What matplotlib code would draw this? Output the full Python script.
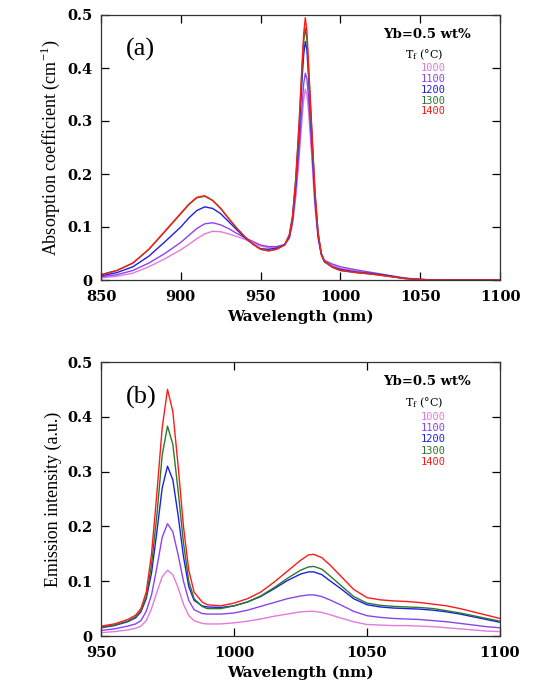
import matplotlib
matplotlib.use("Agg")
import matplotlib.pyplot as plt

temps = ["1000", "1100", "1200", "1300", "1400"]
colors = ["#e57ad9", "#8a44ee", "#1f1fe6", "#2a7a2a", "#ff1a1a"]

wl_a = [850, 860, 870, 880, 890, 900, 905, 910, 915, 920, 925, 930, 935, 940, 945,
        950, 955, 960, 965, 968, 970, 972, 974, 976, 977, 978, 979, 980, 982, 984,
        986, 988, 990, 995, 1000, 1010, 1020, 1030, 1040, 1050, 1060, 1080, 1100]

abs_1000 = [0.004, 0.007, 0.013, 0.025, 0.040, 0.057, 0.067, 0.078, 0.087, 0.092, 0.091, 0.087, 0.082, 0.077, 0.070,
            0.064, 0.061, 0.061, 0.066, 0.078, 0.105, 0.155, 0.225, 0.305, 0.340, 0.360, 0.350, 0.320, 0.235, 0.140,
            0.078, 0.048, 0.036, 0.028, 0.022, 0.017, 0.013, 0.008, 0.003, 0.001, 0.000, 0.000, 0.000]
abs_1100 = [0.006, 0.010, 0.018, 0.032, 0.050, 0.071, 0.084, 0.097, 0.106, 0.108, 0.104, 0.097, 0.088, 0.080, 0.073,
            0.066, 0.063, 0.063, 0.067, 0.080, 0.110, 0.165, 0.240, 0.330, 0.370, 0.390, 0.380, 0.345, 0.250, 0.150,
            0.082, 0.050, 0.037, 0.030, 0.025, 0.019, 0.014, 0.009, 0.004, 0.001, 0.000, 0.000, 0.000]
abs_1200 = [0.008, 0.014, 0.025, 0.045, 0.072, 0.100, 0.117, 0.131, 0.138, 0.135, 0.125, 0.110, 0.095, 0.080, 0.068,
            0.059, 0.058, 0.060, 0.066, 0.082, 0.115, 0.180, 0.270, 0.380, 0.425, 0.450, 0.435, 0.385, 0.275, 0.160,
            0.085, 0.048, 0.034, 0.025, 0.020, 0.015, 0.012, 0.008, 0.003, 0.001, 0.000, 0.000, 0.000]
abs_1300 = [0.010, 0.018, 0.032, 0.058, 0.091, 0.125, 0.142, 0.155, 0.158, 0.150, 0.135, 0.116, 0.098, 0.082, 0.068,
            0.058, 0.055, 0.058, 0.066, 0.085, 0.120, 0.188, 0.285, 0.400, 0.450, 0.475, 0.455, 0.400, 0.285, 0.168,
            0.089, 0.050, 0.035, 0.024, 0.018, 0.014, 0.011, 0.007, 0.003, 0.001, 0.000, 0.000, 0.000]
abs_1400 = [0.010, 0.018, 0.032, 0.058, 0.092, 0.126, 0.143, 0.156, 0.159, 0.150, 0.135, 0.116, 0.098, 0.082, 0.068,
            0.058, 0.055, 0.058, 0.066, 0.085, 0.120, 0.190, 0.290, 0.410, 0.465, 0.495, 0.470, 0.410, 0.290, 0.170,
            0.090, 0.050, 0.035, 0.024, 0.018, 0.014, 0.011, 0.007, 0.003, 0.001, 0.000, 0.000, 0.000]

wl_b = [950, 955, 960, 963, 965, 967, 969, 971, 973, 975, 977, 979, 981, 983, 985, 988, 990, 995, 1000, 1005,
        1010, 1015, 1020, 1025, 1028, 1030, 1033, 1036, 1040, 1045, 1050, 1055, 1060, 1065, 1070, 1075, 1080,
        1085, 1090, 1095, 1100]

em_1000 = [0.006, 0.008, 0.011, 0.014, 0.018, 0.028, 0.050, 0.080, 0.108, 0.120, 0.112, 0.088, 0.058, 0.037, 0.028,
           0.023, 0.022, 0.022, 0.024, 0.027, 0.031, 0.036, 0.040, 0.044, 0.045, 0.045, 0.043, 0.039, 0.033, 0.026,
           0.021, 0.020, 0.019, 0.019, 0.018, 0.017, 0.015, 0.013, 0.011, 0.009, 0.008]
em_1100 = [0.010, 0.013, 0.018, 0.022, 0.028, 0.045, 0.075, 0.125, 0.180, 0.205, 0.190, 0.148, 0.100, 0.065, 0.048,
           0.041, 0.040, 0.040, 0.042, 0.047, 0.054, 0.061, 0.068, 0.073, 0.075, 0.075, 0.072, 0.066, 0.057, 0.045,
           0.037, 0.034, 0.032, 0.031, 0.030, 0.028, 0.026, 0.023, 0.020, 0.017, 0.015]
em_1200 = [0.015, 0.019, 0.026, 0.033, 0.044, 0.068, 0.115, 0.190, 0.270, 0.310, 0.285, 0.220, 0.145, 0.090, 0.065,
           0.055, 0.053, 0.052, 0.055, 0.062, 0.072, 0.086, 0.101, 0.113, 0.117, 0.117, 0.112, 0.101, 0.087, 0.068,
           0.057, 0.053, 0.051, 0.050, 0.049, 0.047, 0.044, 0.040, 0.035, 0.030, 0.025]
em_1300 = [0.016, 0.020, 0.027, 0.035, 0.046, 0.072, 0.130, 0.220, 0.330, 0.383, 0.350, 0.265, 0.170, 0.100, 0.068,
           0.054, 0.050, 0.050, 0.055, 0.062, 0.073, 0.088, 0.105, 0.120, 0.126, 0.127, 0.122, 0.110, 0.093, 0.072,
           0.060, 0.056, 0.054, 0.053, 0.052, 0.050, 0.046, 0.042, 0.037, 0.032, 0.027]
em_1400 = [0.018, 0.022, 0.030, 0.038, 0.050, 0.080, 0.150, 0.260, 0.380, 0.450, 0.410, 0.310, 0.200, 0.120, 0.080,
           0.062, 0.057, 0.055, 0.060, 0.068, 0.080, 0.098, 0.118, 0.138, 0.148, 0.149, 0.143, 0.130, 0.110, 0.085,
           0.070, 0.066, 0.064, 0.063, 0.061, 0.058, 0.055, 0.050, 0.044, 0.038, 0.032]

abs_series = [abs_1000, abs_1100, abs_1200, abs_1300, abs_1400]
em_series = [em_1000, em_1100, em_1200, em_1300, em_1400]

x_ticks_a = [850, 900, 950, 1000, 1050, 1100]
x_ticks_b = [950, 1000, 1050, 1100]
y_ticks = [0, 0.1, 0.2, 0.3, 0.4, 0.5]
y_ticklabels = ["0", "0.1", "0.2", "0.3", "0.4", "0.5"]

W, H = 540, 681
fig = plt.figure(figsize=(W / 100, H / 100), dpi=100)

def make_axes(left, top, right, bottom):
    return fig.add_axes([left / W, 1 - bottom / H, (right - left) / W, (bottom - top) / H])

ax_a = make_axes(101, 15, 500, 280)
ax_b = make_axes(101, 362, 500, 636)

serif = "DejaVu Serif"
times = "Liberation Serif"

def style(ax, xticks, xlim, ylabel, panel, xs, series):
    for ys, c in zip(series, colors):
        ax.plot(xs, ys, color=c, lw=1.0)
    ax.set_xlim(*xlim)
    ax.set_ylim(0, 0.5)
    ax.set_xticks(xticks)
    ax.set_xticklabels([str(t) for t in xticks], fontfamily=serif, fontweight="bold", fontsize=10.5)
    ax.set_yticks(y_ticks)
    ax.set_yticklabels(y_ticklabels, fontfamily=serif, fontweight="bold", fontsize=10.5)
    ax.tick_params(direction="in", length=6, width=0.9, top=True, right=True)
    ax.tick_params(axis="x", pad=7)
    ax.tick_params(axis="y", pad=6)
    for s in ax.spines.values():
        s.set_linewidth(0.9)
        s.set_color("#333333")
    ax.set_xlabel("Wavelength (nm)", fontfamily=serif, fontweight="bold", fontsize=11, labelpad=4)
    ax.set_ylabel(ylabel, fontfamily=times, fontsize=13, labelpad=4)
    ax.text(0.10, 0.87, panel, transform=ax.transAxes, fontfamily=times, fontsize=19, ha="center", va="center")
    ax.text(0.817, 0.928, "Yb=0.5 wt%", transform=ax.transAxes, fontfamily=serif, fontweight="bold",
            fontsize=9.5, ha="center", va="center")
    ax.text(0.81, 0.850, r"T$_\mathregular{f}$ (°C)", transform=ax.transAxes, fontfamily=serif,
            fontsize=8, ha="center", va="center")
    ys_txt = [0.800, 0.759, 0.718, 0.677, 0.636]
    for t, c, yy in zip(temps, colors, ys_txt):
        ax.text(0.833, yy, t, transform=ax.transAxes, fontfamily="DejaVu Sans Mono", color=c,
                fontsize=7.5, ha="center", va="center")

style(ax_a, x_ticks_a, (850, 1100), r"Absorption coefficient (cm$^\mathregular{-1}$)", "(a)", wl_a, abs_series)
style(ax_b, x_ticks_b, (950, 1100), "Emission intensity (a.u.)", "(b)", wl_b, em_series)

fig.savefig("out.png", dpi=100)
